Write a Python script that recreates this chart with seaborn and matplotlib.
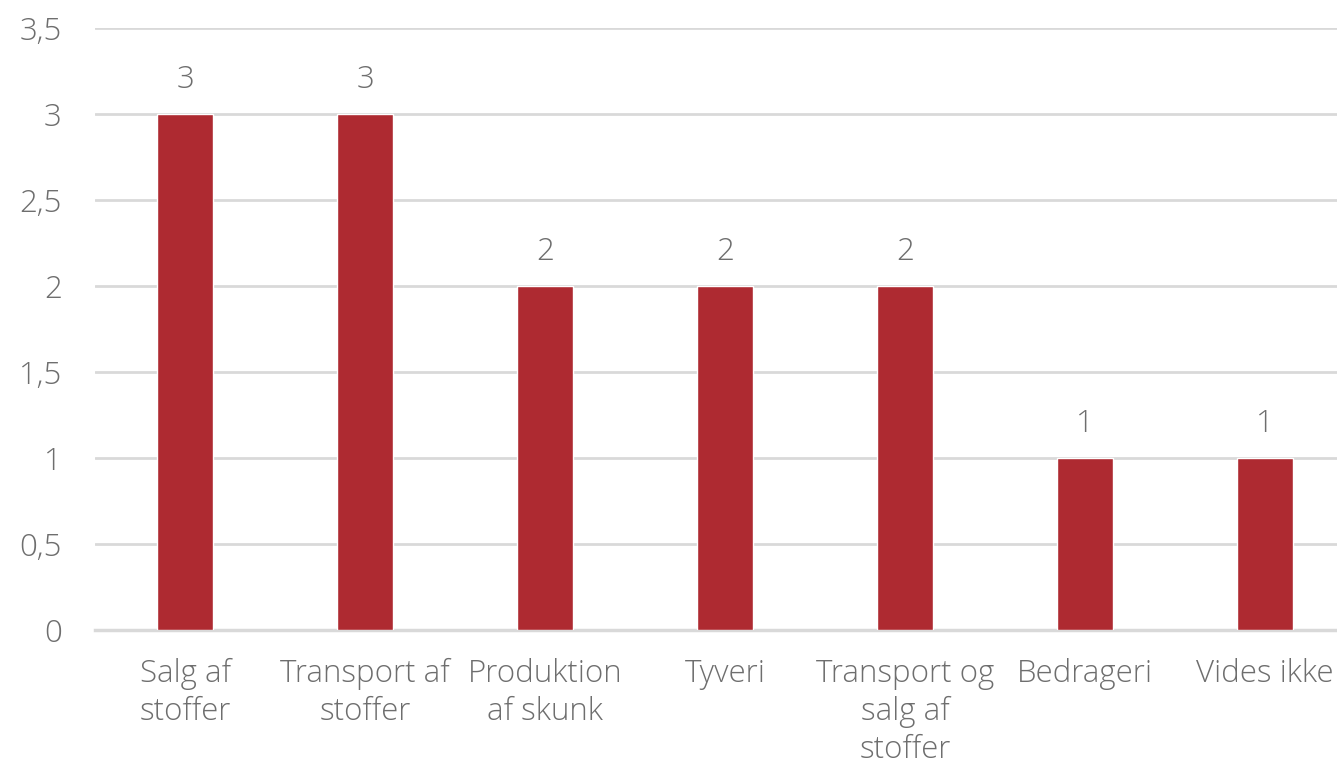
import matplotlib
matplotlib.use("Agg")
import matplotlib.pyplot as plt
import seaborn as sns
import pandas as pd

# Data
categories = ["Salg af\nstoffer", "Transport af\nstoffer", "Produktion\naf skunk",
              "Tyveri", "Transport og\nsalg af\nstoffer", "Bedrageri", "Vides ikke"]
counts = [3, 3, 2, 2, 2, 1, 1]
yticks = [0, 0.5, 1, 1.5, 2, 2.5, 3, 3.5]
ytick_labels = ["0", "0,5", "1", "1,5", "2", "2,5", "3", "3,5"]

bar_color = "#AE2A31"
text_color = "#6e6e6e"
grid_color = "#d9d9d9"

sns.set_theme(style="white")
plt.rcParams['font.family'] = ['Open Sans', 'DejaVu Sans']

df = pd.DataFrame({"kategori": categories, "antal": counts})

fig = plt.figure(figsize=(13.37, 7.70), dpi=100)
ax = fig.add_axes([95 / 1337, 140 / 770, 1260 / 1337, 602 / 770])

sns.barplot(data=df, x="kategori", y="antal", color=bar_color, width=0.31,
            saturation=1, ax=ax, zorder=3)

ax.set_ylim(0, 3.5)
ax.set_xlim(-0.5, len(categories) - 0.5)
ax.set_yticks(yticks)
ax.set_yticklabels(ytick_labels)
ax.yaxis.grid(True, color=grid_color, linewidth=2, zorder=0)
ax.set_axisbelow(True)
for s in ["top", "right", "left"]:
    ax.spines[s].set_visible(False)
ax.spines["bottom"].set_color(grid_color)
ax.spines["bottom"].set_linewidth(2.5)
ax.tick_params(axis="both", length=0, labelsize=22.5, labelcolor=text_color)
ax.tick_params(axis="y", pad=24)
ax.tick_params(axis="x", pad=20)
for lbl in ax.get_xticklabels():
    lbl.set_linespacing(1.25)
    lbl.set_fontweight("light")
for lbl in ax.get_yticklabels():
    lbl.set_fontweight("light")
ax.set_xlabel("")
ax.set_ylabel("")

for container in ax.containers:
    ax.bar_label(container, labels=[str(v) for v in counts], padding=13,
                 fontsize=22.5, color=text_color, fontweight="light")

fig.savefig("out.png", dpi=100)
